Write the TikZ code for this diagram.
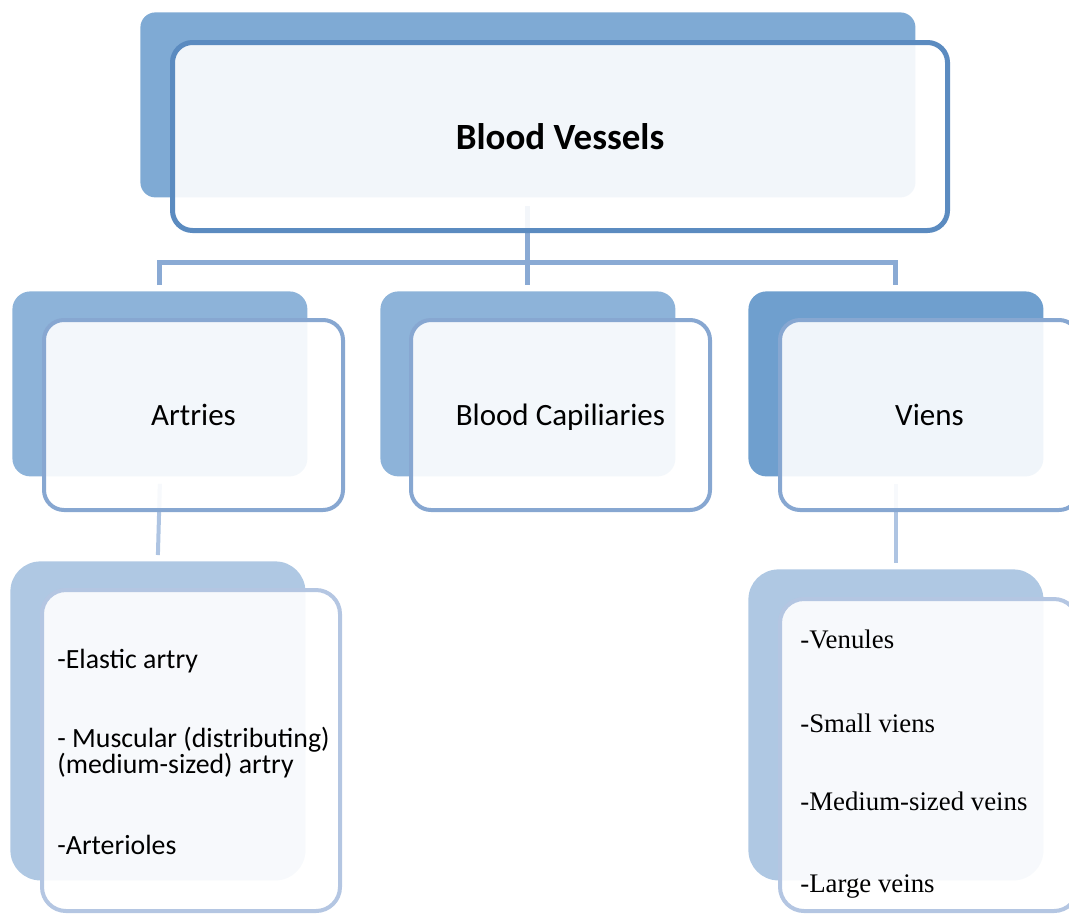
\documentclass[tikz,border=0pt]{standalone}
\usepackage{fontspec}
\setmainfont{Carlito}
\newfontfamily\veinfont{Liberation Serif}
\usetikzlibrary{positioning}
\definecolor{rootfill}{RGB}{127,170,212}
\definecolor{rootedge}{RGB}{91,139,192}
\definecolor{midfill}{RGB}{141,179,217}
\definecolor{veinfill}{RGB}{111,159,206}
\definecolor{midedge}{RGB}{135,167,209}
\definecolor{leaffill}{RGB}{175,200,227}
\definecolor{leafedge}{RGB}{180,198,226}
\definecolor{linkblue}{RGB}{138,170,212}
\definecolor{leafblue}{RGB}{174,196,226}

\begin{document}
\begin{tikzpicture}[x=0.5pt,y=-0.5pt,
 backcard/.style={inner sep=0pt,anchor=north west},
 frontcard/.style={draw,fill=white,fill opacity=0.9,text opacity=1,inner sep=0pt},
 midback/.style={backcard,minimum width=147.5pt,minimum height=92.5pt,rounded corners=9pt},
 midfront/.style={frontcard,draw=midedge,line width=2pt,minimum width=149.5pt,minimum height=95pt,rounded corners=10pt,text depth=0pt,font=\fontsize{15.5}{18}\selectfont},
 leafback/.style={backcard,fill=leaffill,minimum width=147.5pt,rounded corners=15pt},
 leaffront/.style={frontcard,draw=leafedge,line width=2pt,minimum width=149pt,rounded corners=12pt},
 rootlink/.style={draw=linkblue,line width=2.5pt},
 leaflink/.style={draw=leafblue,line width=2pt},
 arteryitem/.style={anchor=base west,inner sep=0pt,font=\fontsize{13.9}{16}\selectfont},
 veinitem/.style={anchor=base west,inner sep=0pt,font=\veinfont\fontsize{13.4}{15}\selectfont}]
\useasboundingbox (0,0) rectangle (1069,916);

% back cards
\node[backcard,fill=rootfill,minimum width=387.5pt,minimum height=92.5pt,rounded corners=7.5pt] (rootback) at (140,12) {};
\node[midback,fill=midfill] (arteriesback) at (12,291) {};
\node[midback,fill=midfill] (capillariesback) at (380,291) {};
\node[midback,fill=veinfill] (viensback) at (748,291) {};
\node[leafback,minimum height=159.5pt] (arterylistback) at (10,561) {};
\node[leafback,minimum height=155.5pt] (veinlistback) at (748,569) {};

% connectors
\coordinate (forkrow) at (0,262);
\draw[rootlink] ([yshift=-4pt]rootback.south) -- (rootback.south |- forkrow) coordinate (fork);
\draw[rootlink] ([yshift=3pt]arteriesback.north) |- (fork) -| ([yshift=3pt]viensback.north);
\draw[rootlink] (fork) -- ([yshift=3pt]capillariesback.north);
\draw[leaflink] ([yshift=-3.5pt]arteriesback.south) -- ([yshift=3pt]arterylistback.north);
\draw[leaflink] ([yshift=-3.5pt]viensback.south) -- ([yshift=3pt]veinlistback.north);

% front cards
\node[frontcard,draw=rootedge,line width=2.5pt,minimum width=387.5pt,minimum height=94pt,rounded corners=10pt,
 font=\bfseries\fontsize{18.5}{22}\selectfont,below right=14pt and 15pt of rootback.north west] (root) {Blood Vessels};
\node[midfront,below right=13.5pt and 15pt of arteriesback.north west] (arteries) {Artries};
\node[midfront,below right=13.5pt and 14.5pt of capillariesback.north west] (capillaries) {Blood Capiliaries};
\node[midfront,below right=13.5pt and 15pt of viensback.north west] (viens) {Viens};
\node[leaffront,minimum height=160.5pt,below right=13.5pt and 15pt of arterylistback.north west] (arterylist) {};
\node[leaffront,minimum height=156pt,below right=14pt and 15pt of veinlistback.north west] (veinlist) {};

% list texts
\node[arteryitem] (elastic) at (57,668) {-Elastic artry};
\node[arteryitem] (muscular) at (57,747) {- Muscular (distributing)};
\node[arteryitem] (mediumartery) at (57,773) {(medium-sized) artry};
\node[arteryitem] (arterioles) at (57,854) {-Arterioles};
\node[veinitem] (venules) at (800,648) {-Venules};
\node[veinitem] (smallveins) at (800,732) {-Small viens};
\node[veinitem] (mediumveins) at (800,810) {-Medium-sized veins};
\node[veinitem] (largeveins) at (800,892) {-Large veins};
\end{tikzpicture}
\end{document}
